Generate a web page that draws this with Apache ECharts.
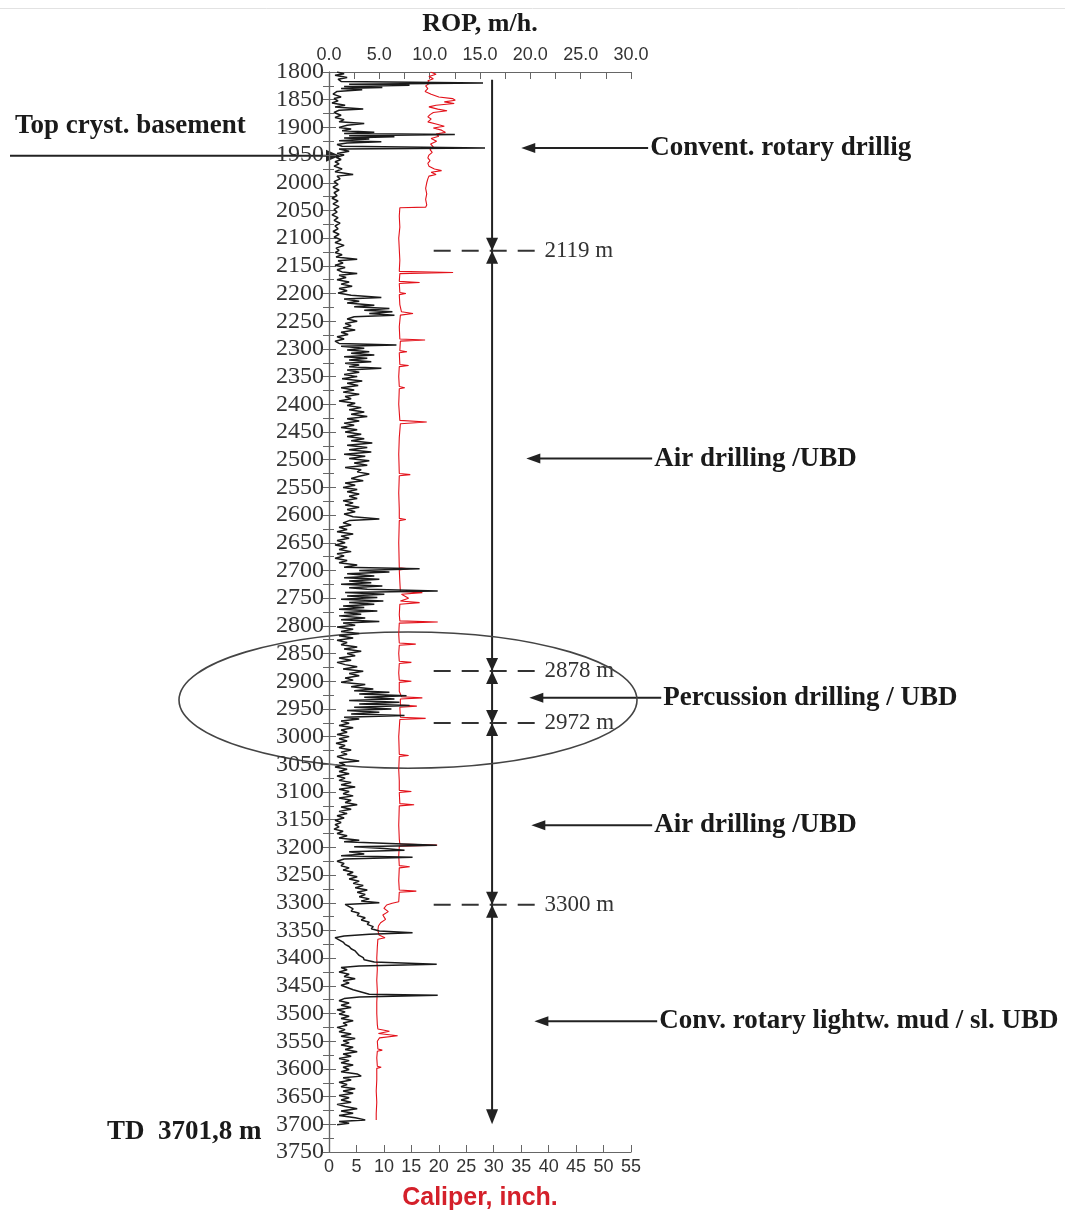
<!DOCTYPE html>
<html>
<head>
<meta charset="utf-8">
<script src="https://cdn.jsdelivr.net/npm/echarts@6/dist/echarts.min.js"></script>
<style>
html,body{margin:0;padding:0;background:#fff;}
#chart{width:1065px;height:1216px;}
</style>
</head>
<body>
<div id="chart"></div>
<script>
// ---- DATA ----
// ROP log: [depth m, ROP m/h]
const ropLog = [
[1800,0.8],[1803,1.5],[1806,0.6],[1810,1.8],[1813,0.9],[1817,1.2],[1820,15.3],[1822,2.0],[1824,8.0],[1826,1.5],[1828,5.3],[1830,1.2],[1832,3.3],[1835,0.8],
[1840,0.4],[1845,1.2],[1848,0.5],[1852,0.9],[1856,0.3],[1860,1.6],[1863,0.6],[1867,3.4],[1869,1.0],[1873,0.5],[1878,1.2],[1882,0.6],[1886,1.5],[1890,1.0],
[1893,3.5],[1896,1.8],[1900,1.0],[1903,2.2],[1906,1.3],[1909,4.5],[1911,1.5],[1913,12.5],[1915,2.0],[1917,6.5],[1919,1.5],[1921,4.0],[1924,1.0],[1926,5.2],
[1928,1.8],[1931,0.8],[1934,1.3],[1937,15.5],[1939,1.0],[1943,2.0],[1947,0.8],[1950,1.5],[1954,0.7],[1958,1.2],[1962,0.6],[1966,1.0],[1970,0.5],[1975,1.3],
[1980,0.6],[1985,2.4],[1988,0.8],[1993,1.1],[1998,0.5],[2003,0.9],[2008,0.4],[2013,1.0],[2018,0.5],[2023,0.8],[2028,0.3],[2033,0.9],[2038,0.4],[2043,1.0],
[2048,0.5],[2053,0.8],[2058,0.3],[2063,0.9],[2068,0.5],[2073,1.1],[2078,0.6],[2083,0.9],[2088,0.4],[2093,1.0],[2098,0.5],[2103,1.2],[2108,0.6],[2113,1.5],
[2118,0.7],[2122,1.0],[2126,0.6],[2130,1.3],[2134,0.7],[2138,2.8],[2141,0.9],[2145,1.4],[2149,0.6],[2153,1.6],[2157,0.8],[2161,1.3],[2164,2.8],[2167,1.0],
[2171,1.7],[2175,0.8],[2179,2.0],[2183,1.2],[2187,2.3],[2191,1.0],[2195,1.8],[2199,0.9],[2203,2.2],[2207,5.2],[2210,1.5],[2214,3.0],[2217,1.8],[2221,4.5],
[2224,2.5],[2227,6.0],[2230,3.5],[2233,6.3],[2236,4.0],[2239,6.5],[2242,2.5],[2246,1.8],[2250,2.8],[2254,1.6],[2258,2.2],[2262,1.4],[2266,2.6],[2270,1.2],
[2274,1.9],[2278,0.8],[2282,1.5],[2286,0.6],[2290,1.0],[2293,6.7],[2295,1.2],[2299,3.5],[2302,1.8],[2305,4.0],[2308,2.2],[2311,4.5],[2314,1.5],[2317,3.8],
[2320,2.0],[2323,4.2],[2326,1.6],[2329,3.0],[2332,2.0],[2335,5.2],[2338,1.8],[2342,3.0],[2346,1.5],[2350,2.8],[2354,1.3],[2358,3.3],[2362,1.8],[2366,2.9],
[2370,1.2],[2374,2.5],[2378,1.4],[2382,3.0],[2386,1.6],[2390,2.2],[2394,1.0],[2398,2.6],[2402,1.8],[2406,3.2],[2410,2.0],[2414,3.5],[2418,2.2],[2422,3.8],
[2426,1.8],[2430,3.0],[2434,1.5],[2438,2.5],[2442,1.2],[2446,2.8],[2450,1.6],[2454,3.2],[2458,1.8],[2462,3.5],[2466,2.2],[2470,4.3],[2474,1.8],[2478,3.8],
[2482,2.0],[2486,4.2],[2490,1.5],[2494,3.6],[2498,2.0],[2502,4.0],[2506,2.5],[2510,3.8],[2514,1.6],[2518,3.2],[2522,2.8],[2526,4.0],[2530,3.0],[2534,2.2],
[2538,3.4],[2542,1.6],[2546,2.6],[2550,1.4],[2554,2.8],[2558,1.8],[2562,3.0],[2566,2.0],[2570,2.8],[2574,1.4],[2578,2.4],[2582,1.6],[2586,3.0],[2590,1.8],
[2594,2.6],[2598,1.5],[2603,2.4],[2607,5.0],[2610,2.0],[2614,1.4],[2618,2.2],[2622,1.0],[2626,1.8],[2630,0.8],[2634,2.4],[2638,1.2],[2642,2.0],[2646,0.8],
[2650,1.6],[2654,0.6],[2658,1.8],[2662,1.0],[2666,2.2],[2670,0.8],[2674,1.5],[2678,0.6],[2682,1.8],[2686,1.0],[2690,2.8],[2694,1.5],[2697,9.0],[2700,3.0],
[2703,6.0],[2706,1.8],[2710,4.5],[2713,1.5],[2716,5.0],[2719,2.0],[2722,4.2],[2725,1.2],[2728,5.3],[2731,2.0],[2734,3.8],[2737,10.8],[2740,1.6],[2743,5.5],
[2746,1.8],[2749,4.8],[2752,1.2],[2755,5.4],[2758,2.0],[2761,4.5],[2764,1.4],[2767,3.5],[2770,1.0],[2773,4.8],[2776,1.5],[2779,3.2],[2782,1.0],[2786,3.6],
[2789,1.2],[2792,5.0],[2795,1.4],[2799,2.6],[2802,0.8],[2806,2.4],[2810,1.2],[2814,3.0],[2818,1.0],[2822,2.4],[2826,0.8],[2830,1.8],[2834,1.2],[2838,2.8],
[2842,1.5],[2846,3.2],[2850,1.8],[2854,2.6],[2858,1.0],[2862,2.2],[2866,0.8],[2870,1.6],[2874,2.8],[2878,1.4],[2882,3.4],[2886,2.0],[2890,3.0],[2894,1.6],
[2898,2.4],[2902,1.2],[2906,3.6],[2910,2.2],[2914,4.4],[2917,2.5],[2920,6.0],[2923,3.0],[2926,7.7],[2929,3.5],[2932,6.5],[2935,2.0],[2938,7.0],[2941,3.0],
[2944,8.0],[2947,2.5],[2950,6.2],[2953,1.8],[2956,5.0],[2959,2.2],[2962,7.5],[2965,1.5],[2968,3.0],[2972,1.2],[2976,2.0],[2980,1.0],[2984,2.4],[2988,1.2],
[2992,1.8],[2996,0.8],[3000,2.0],[3004,1.0],[3008,1.8],[3012,0.7],[3016,1.6],[3020,1.0],[3024,2.2],[3028,1.2],[3032,1.8],[3036,0.8],[3040,1.5],[3044,3.0],
[3047,1.0],[3051,1.6],[3055,0.6],[3059,1.8],[3063,1.0],[3067,2.0],[3071,0.8],[3075,1.6],[3079,1.0],[3083,2.2],[3087,1.2],[3091,2.6],[3095,1.0],[3099,2.0],
[3103,1.4],[3107,2.4],[3111,1.0],[3115,2.2],[3119,1.6],[3123,2.8],[3127,1.2],[3131,2.2],[3135,1.0],[3139,1.8],[3143,0.8],[3147,1.5],[3151,0.6],[3155,1.2],
[3159,0.6],[3163,1.0],[3167,0.5],[3171,1.4],[3175,0.8],[3179,1.8],[3183,1.0],[3187,3.0],[3190,1.5],[3193,6.0],[3196,10.7],[3199,2.5],[3202,5.5],[3205,7.5],
[3208,2.0],[3212,3.5],[3215,1.2],[3218,8.3],[3221,1.5],[3225,0.8],[3229,1.5],[3233,1.2],[3237,2.0],[3241,1.4],[3245,2.4],[3249,1.8],[3253,2.8],[3257,2.0],
[3261,3.0],[3265,2.4],[3269,3.4],[3273,2.6],[3277,3.8],[3281,2.8],[3285,3.6],[3289,3.0],[3293,4.0],[3297,3.2],[3300,5.0],[3303,1.6],[3307,2.0],[3311,2.4],
[3315,2.2],[3319,3.0],[3323,2.8],[3327,3.6],[3331,3.2],[3335,4.0],[3339,3.8],[3343,4.4],[3347,4.2],[3351,5.0],[3354,8.3],[3357,4.0],[3360,1.5],[3363,0.6],
[3367,1.0],[3371,1.4],[3375,1.6],[3379,2.0],[3383,2.2],[3387,2.6],[3391,2.8],[3395,3.0],[3399,3.4],[3403,3.5],[3407,4.5],[3411,10.7],[3414,3.0],[3417,1.2],
[3421,1.8],[3425,1.0],[3429,2.0],[3433,1.5],[3437,2.6],[3441,1.4],[3445,2.0],[3449,1.2],[3453,1.8],[3457,2.4],[3461,3.2],[3465,4.0],[3467,10.8],[3470,3.0],
[3473,1.5],[3477,1.0],[3481,2.0],[3485,1.2],[3489,2.2],[3493,0.8],[3497,1.6],[3501,1.0],[3505,2.0],[3509,1.2],[3513,2.4],[3517,1.4],[3521,1.8],[3525,0.8],
[3529,1.6],[3533,1.0],[3537,2.2],[3541,1.2],[3545,2.6],[3549,1.4],[3553,2.0],[3557,1.2],[3561,2.4],[3565,1.6],[3569,2.8],[3573,1.4],[3577,2.2],[3581,1.0],
[3585,2.0],[3589,1.2],[3593,2.4],[3597,1.4],[3601,2.0],[3605,1.2],[3609,2.8],[3613,3.2],[3616,1.4],[3620,2.2],[3624,1.0],[3628,1.8],[3632,1.2],[3636,2.6],
[3640,1.4],[3644,2.4],[3648,1.0],[3652,2.0],[3656,1.2],[3660,2.2],[3664,0.8],[3668,1.6],[3672,2.8],[3676,1.2],[3680,2.4],[3684,1.0],[3688,2.6],[3692,3.6],
[3695,1.0],[3698,2.0],[3701,0.8]
];

// Caliper log: [depth m, caliper inch]
const caliperLog = [
[1800,18.5],[1804,19.5],[1808,18.2],[1812,19.0],[1816,18.0],[1820,18.4],[1825,17.6],[1830,18.0],[1835,17.5],[1840,18.6],[1845,20.0],[1848,22.5],[1851,23.0],
[1854,21.0],[1857,22.8],[1860,19.5],[1863,18.2],[1867,19.8],[1870,21.5],[1873,19.0],[1877,18.4],[1881,18.0],[1885,18.6],[1890,18.0],[1894,19.5],[1898,21.0],
[1901,19.0],[1905,20.5],[1909,21.2],[1912,19.5],[1916,20.0],[1920,18.6],[1925,19.6],[1930,18.5],[1935,19.0],[1940,18.4],[1945,18.8],[1950,18.2],[1955,18.0],
[1960,18.4],[1965,18.0],[1970,18.2],[1975,19.2],[1978,20.5],[1981,18.6],[1985,19.5],[1988,18.2],[1993,18.0],[2000,17.8],[2010,17.6],[2020,17.8],[2030,17.6],
[2040,17.8],[2044,17.6],[2045,12.9],[2060,12.8],[2080,12.9],[2100,12.7],[2120,12.8],[2140,12.9],[2160,12.8],[2162,22.6],[2164,12.9],[2178,12.8],[2180,16.5],
[2182,12.8],[2198,12.9],[2200,14.0],[2202,12.8],[2220,12.9],[2233,13.2],[2236,15.3],[2239,13.0],[2260,12.8],[2282,12.9],[2284,17.5],[2286,13.0],[2303,12.9],
[2305,14.2],[2307,12.8],[2328,12.9],[2330,14.5],[2332,12.8],[2350,12.7],[2368,12.8],[2370,13.8],[2372,12.8],[2400,12.7],[2429,12.9],[2432,17.8],[2435,13.0],
[2460,12.8],[2490,12.7],[2525,12.8],[2527,14.8],[2529,12.8],[2560,12.7],[2590,12.8],[2606,12.8],[2608,14.0],[2610,12.8],[2650,12.7],[2695,12.8],[2697,14.5],
[2699,12.8],[2720,12.9],[2738,13.0],[2740,17.0],[2743,13.2],[2750,14.5],[2755,13.0],[2758,16.5],[2761,12.9],[2780,12.8],[2791,12.9],[2793,19.8],[2795,12.8],
[2815,12.7],[2831,12.8],[2833,15.8],[2835,12.8],[2850,12.7],[2864,12.8],[2866,15.0],[2868,12.8],[2885,12.7],[2898,12.8],[2900,15.0],[2902,12.8],[2918,12.8],
[2928,13.2],[2930,17.0],[2932,13.0],[2943,13.0],[2945,16.0],[2947,12.9],[2965,13.0],[2967,17.6],[2969,12.9],[3000,12.7],[3032,12.8],[3034,14.5],[3036,12.8],
[3060,12.7],[3080,12.8],[3097,12.8],[3099,15.0],[3101,12.8],[3121,12.9],[3123,15.5],[3125,12.8],[3160,12.7],[3185,12.8],[3194,12.9],[3196,19.7],[3198,12.8],
[3215,12.7],[3233,12.8],[3235,14.7],[3237,12.8],[3260,12.7],[3277,12.8],[3279,15.9],[3281,12.8],[3298,12.7],[3301,11.5],[3304,10.5],[3310,10.0],[3316,10.8],
[3322,9.8],[3330,10.3],[3336,9.4],[3342,9.0],[3350,8.9],[3358,9.1],[3363,10.2],[3366,8.9],[3380,8.8],[3400,8.7],[3420,8.8],[3440,8.7],[3460,8.8],[3480,8.7],
[3500,8.7],[3520,8.8],[3528,8.9],[3532,11.0],[3536,9.0],[3540,12.5],[3544,9.2],[3550,8.8],[3564,8.9],[3566,9.7],[3568,8.8],[3580,8.7],[3595,8.8],[3597,9.5],
[3599,8.7],[3620,8.7],[3640,8.6],[3660,8.7],[3680,8.6],[3692,8.6]
];

const zoneBounds = [2119, 2878, 2972, 3300];
const zoneNames = ['Convent. rotary drillig','Air drilling /UBD','Percussion drilling / UBD','Air drilling /UBD','Conv. rotary lightw. mud / sl. UBD'];
const zoneNoteDepths = [1937, 2498, 2930, 3160, 3514];
const basementDepth = 1951;
const tdDepth = 3701.8;

// ---- CHART ----
const chart = echarts.init(document.getElementById('chart'), null, {renderer: 'canvas'});
const serif = '"Liberation Serif", "Times New Roman", serif';
const sans = '"Liberation Sans", Arial, sans-serif';

const option = {
  animation: false,
  backgroundColor: '#fff',
  grid: {left: 329, right: 434, top: 72, bottom: 56, containLabel: false},
  xAxis: [
    {
      type: 'value', position: 'top', min: 0, max: 30, interval: 5,
      name: 'ROP, m/h.', nameLocation: 'middle', nameGap: 35,
      nameTextStyle: {fontFamily: serif, fontWeight: 'bold', fontSize: 26, color: '#1a1a1a'},
      axisLine: {show: true, lineStyle: {color: '#666', width: 1.2}},
      axisTick: {show: true, inside: true, length: 7, lineStyle: {color: '#666'}},
      minorTick: {show: true, splitNumber: 2, length: 7, lineStyle: {color: '#666'}},
      axisLabel: {fontFamily: sans, fontSize: 18, color: '#333', margin: 8, formatter: v => v.toFixed(1)},
      splitLine: {show: false}
    },
    {
      type: 'value', position: 'bottom', min: 0, max: 55, interval: 5,
      name: 'Caliper, inch.', nameLocation: 'middle', nameGap: 34,
      nameTextStyle: {fontFamily: sans, fontWeight: 'bold', fontSize: 25, color: '#d4202a'},
      axisLine: {show: true, lineStyle: {color: '#666', width: 1.2}},
      axisTick: {show: true, inside: true, length: 7, lineStyle: {color: '#666'}},
      axisLabel: {fontFamily: sans, fontSize: 18, color: '#333', margin: 6},
      splitLine: {show: false}
    }
  ],
  yAxis: [
    {
      type: 'value', inverse: true, min: 1800, max: 3750, interval: 50, position: 'left',
      axisLine: {show: true, lineStyle: {color: '#666', width: 1.2}},
      axisTick: {show: true, inside: true, length: 7, lineStyle: {color: '#666'}},
      minorTick: {show: true, splitNumber: 2, length: 5, lineStyle: {color: '#666'}},
      axisLabel: {fontFamily: serif, fontSize: 24, color: '#333', margin: 5, formatter: v => String(v)},
      splitLine: {show: false}
    },
    {
      type: 'value', inverse: true, min: 1800, max: 3750, interval: 25, position: 'right',
      axisLine: {show: true, lineStyle: {color: '#666', width: 1.2}},
      axisTick: {show: true, inside: true, length: 6, lineStyle: {color: '#666'}},
      axisLabel: {show: false},
      splitLine: {show: false}
    }
  ],
  series: [
    {
      name: 'Caliper', type: 'line', xAxisIndex: 1, yAxisIndex: 0,
      data: caliperLog.map(p => [p[1], p[0]]),
      showSymbol: false, symbol: 'none',
      lineStyle: {color: '#e3121b', width: 1.1}
    },
    {
      name: 'ROP', type: 'line', xAxisIndex: 0, yAxisIndex: 0,
      data: ropLog.map(p => [p[1], p[0]]),
      showSymbol: false, symbol: 'none',
      lineStyle: {color: '#1a1a1a', width: 1.5}
    }
  ]
};
chart.setOption(option);

// ---- ANNOTATIONS (positions derived from the axes) ----
const yPx = d => chart.convertToPixel({yAxisIndex: 0}, d);
const xRop = v => chart.convertToPixel({xAxisIndex: 0}, v);
const g = [];
const ink = '#222';
const vx = xRop(16.2);

g.push({type: 'line', shape: {x1: 0, y1: 8.5, x2: 1065, y2: 8.5}, style: {stroke: '#e2e2e2', lineWidth: 1}});

g.push({type: 'line', shape: {x1: vx, y1: yPx(1814), x2: vx, y2: yPx(3690)}, style: {stroke: ink, lineWidth: 2}});
const yb = yPx(3700);
g.push({type: 'polygon', shape: {points: [[vx - 6, yb - 15], [vx + 6, yb - 15], [vx, yb]]}, style: {fill: ink}});

zoneBounds.forEach(d => {
  const y = yPx(d) + 2;
  g.push({type: 'line', shape: {x1: xRop(10.4), y1: y, x2: xRop(21.3), y2: y}, style: {stroke: '#333', lineWidth: 2, lineDash: [17, 11]}});
  g.push({type: 'polygon', shape: {points: [[vx - 6, y - 13], [vx + 6, y - 13], [vx, y]]}, style: {fill: ink}});
  g.push({type: 'polygon', shape: {points: [[vx - 6, y + 13], [vx + 6, y + 13], [vx, y]]}, style: {fill: ink}});
  g.push({type: 'text', x: xRop(21.4), y: y, style: {text: d + ' m', font: '23px ' + serif, fill: '#333', textVerticalAlign: 'middle', textBaseline: 'middle'}});
});

const tipsX = [19.1, 19.6, 19.9, 20.1, 20.4];
const textX = [31.9, 32.3, 33.2, 32.3, 32.8];
zoneNames.forEach((name, i) => {
  const y = yPx(zoneNoteDepths[i]);
  const xt = xRop(tipsX[i]);
  const xs = xRop(textX[i]);
  g.push({type: 'line', shape: {x1: xt + 10, y1: y, x2: xs - 2, y2: y}, style: {stroke: ink, lineWidth: 2}});
  g.push({type: 'polygon', shape: {points: [[xt, y], [xt + 14, y - 5], [xt + 14, y + 5]]}, style: {fill: ink}});
  g.push({type: 'text', x: xs, y: y, style: {text: name, font: 'bold 27px ' + serif, fill: '#1a1a1a', textVerticalAlign: 'middle', textBaseline: 'middle'}});
});

const yBase = yPx(basementDepth);
const gridLeft = xRop(0);
g.push({type: 'line', shape: {x1: 10, y1: yBase, x2: gridLeft, y2: yBase}, style: {stroke: ink, lineWidth: 2}});
g.push({type: 'polygon', shape: {points: [[gridLeft + 11, yBase], [gridLeft - 3, yBase - 6], [gridLeft - 3, yBase + 6]]}, style: {fill: ink}});
g.push({type: 'text', x: 15, y: yPx(1897), style: {text: 'Top cryst. basement', font: 'bold 27px ' + serif, fill: '#1a1a1a', textVerticalAlign: 'middle', textBaseline: 'middle'}});

g.push({type: 'text', x: 107, y: yPx(tdDepth + 12), style: {text: 'TD  3701,8 m', font: 'bold 27px ' + serif, fill: '#1a1a1a', textVerticalAlign: 'middle', textBaseline: 'middle'}});

const yTop = yPx(2811), yBot = yPx(3057);
g.push({type: 'ellipse', shape: {cx: 408, cy: (yTop + yBot) / 2, rx: 229, ry: (yBot - yTop) / 2}, style: {fill: 'none', stroke: '#444', lineWidth: 1.6}});

chart.setOption({graphic: {elements: g}});
</script>
</body>
</html>
